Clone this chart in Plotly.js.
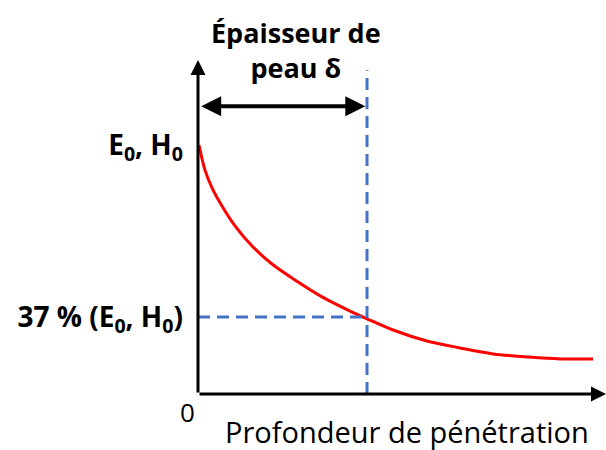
<!DOCTYPE html>
<html>
<head>
<meta charset="utf-8">
<script src="https://cdn.plot.ly/plotly-3.0.1.min.js"></script>
<style>
    html, body { margin: 0; padding: 0; background: #fff; }
    #chart { width: 606px; height: 450px; }
</style>
</head>
<body>
<div id="chart"></div>
<script>
// Profondeur (en unités de δ) et amplitude relative (E/E0)
const depth = [0.006, 0.041, 0.083, 0.142, 0.219, 0.320, 0.438, 0.574, 0.734, 0.888, 1.0, 1.154, 1.355, 1.550, 1.746, 1.947, 2.142, 2.337];
const amplitude = [1.0, 0.900, 0.828, 0.755, 0.675, 0.594, 0.522, 0.458, 0.390, 0.337, 0.302, 0.257, 0.213, 0.185, 0.161, 0.149, 0.141, 0.141];

const skinDepth = 1.0;
const level37 = 0.309;

const yTickVals = [1.0, level37];
const yTickText = ["E<sub>0</sub>, H<sub>0</sub>", "37 % (E<sub>0</sub>, H<sub>0</sub>)"];

const xMax = 2.414;
const yMax = 1.341;

const W = 606;
const H = 450;
const margin = { l: 198, r: 0, t: 60, b: 56 };

// position en pixels de la page -> coordonnées "paper"
function px(x) { return (x - margin.l) / (W - margin.l - margin.r); }
function py(y) { return (H - margin.b - y) / (H - margin.t - margin.b); }

const curve = {
    x: depth,
    y: amplitude,
    type: "scatter",
    mode: "lines",
    line: { color: "#ff0000", width: 3, shape: "spline", smoothing: 1 },
    hoverinfo: "skip"
};

const dashStyle = { color: "#4472c4", width: 3, dash: "12px,7px" };

const layout = {
    width: W,
    height: H,
    margin: margin,
    paper_bgcolor: "#fff",
    plot_bgcolor: "#fff",
    showlegend: false,
    font: { family: "'Open Sans', sans-serif", color: "#000" },
    xaxis: {
        range: [0, xMax],
        showgrid: false,
        zeroline: false,
        showline: false,
        showticklabels: false,
        ticks: ""
    },
    yaxis: {
        range: [0, yMax],
        showgrid: false,
        zeroline: false,
        showline: false,
        tickmode: "array",
        tickvals: yTickVals,
        ticktext: yTickText,
        ticks: "",
        ticklabelstandoff: 14,
        tickfont: { family: "'Open Sans', sans-serif", size: 28, color: "#000", weight: "bold" }
    },
    shapes: [
        {
            type: "line", xref: "x", yref: "y",
            x0: skinDepth, x1: skinDepth, y0: 0, y1: 1.30,
            line: dashStyle
        },
        {
            type: "line", xref: "x", yref: "y",
            x0: 0, x1: skinDepth, y0: level37, y1: level37,
            line: dashStyle
        }
    ],
    annotations: [
        // axe vertical
        {
            x: 0, y: yMax, ax: 0, ay: 0,
            xref: "x", yref: "y", axref: "x", ayref: "y",
            showarrow: true, arrowhead: 2, arrowsize: 1, arrowwidth: 3,
            arrowcolor: "#000", text: ""
        },
        // axe horizontal
        {
            x: xMax, y: 0, ax: 0, ay: 0,
            xref: "x", yref: "y", axref: "x", ayref: "y",
            showarrow: true, arrowhead: 2, arrowsize: 1, arrowwidth: 3,
            arrowcolor: "#000", text: ""
        },
        // épaisseur de peau
        {
            x: skinDepth - 0.01, y: 1.155, ax: 0.01, ay: 1.155,
            xref: "x", yref: "y", axref: "x", ayref: "y",
            showarrow: true, arrowhead: 2, startarrowhead: 2, arrowside: "end+start",
            arrowsize: 1, startarrowsize: 1, arrowwidth: 4,
            arrowcolor: "#000", text: ""
        },
        {
            x: px(296), y: py(50), xref: "paper", yref: "paper",
            xanchor: "center", yanchor: "middle",
            text: "<b>Épaisseur de<br>peau δ</b>",
            showarrow: false, align: "center",
            font: { size: 27, color: "#000" }
        },
        {
            x: px(187), y: py(412), xref: "paper", yref: "paper",
            xanchor: "center", yanchor: "middle",
            text: "0", showarrow: false,
            font: { size: 26, color: "#000" }
        },
        {
            x: px(407), y: py(432), xref: "paper", yref: "paper",
            xanchor: "center", yanchor: "middle",
            text: "Profondeur de pénétration", showarrow: false,
            font: { size: 29, color: "#000" }
        }
    ]
};

Plotly.newPlot("chart", [curve], layout, { displayModeBar: false, staticPlot: true });
</script>
</body>
</html>
